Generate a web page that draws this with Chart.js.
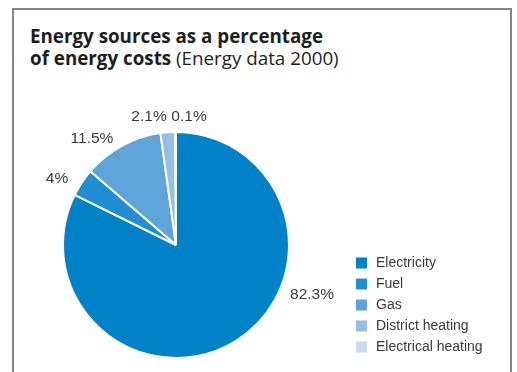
<!DOCTYPE html>
<html>
<head>
<meta charset="utf-8">
<script src="https://cdn.jsdelivr.net/npm/chart.js@4/dist/chart.umd.min.js"></script>
<style>
  html, body { margin: 0; padding: 0; background: #fff; }
  body { width: 517px; height: 372px; position: relative; overflow: hidden; }
  #frame { position: absolute; left: 12px; top: 8px; width: 500px; height: 420px;
           border: 2px solid #868686; box-sizing: border-box; }
  #title { position: absolute; left: 30px; top: 25px; font-family: "Open Sans", sans-serif;
           font-size: 18.8px; line-height: 22px; color: #1e1e1e; }
  #title b { font-weight: 700; }
  #title span { font-weight: 400; }
  #wrap { position: absolute; left: 0; top: 0; width: 517px; height: 372px; }
</style>
</head>
<body>
<div id="frame"></div>
<div id="title"><b>Energy sources as a percentage</b><br><b>of energy costs</b> <span>(Energy data 2000)</span></div>
<div id="wrap"><canvas id="c" width="517" height="372"></canvas></div>
<script>
const categories = ["Electricity", "Fuel", "Gas", "District heating", "Electrical heating"];
const shares = [82.3, 4, 11.5, 2.1, 0.1];
const valueLabels = ["82.3%", "4%", "11.5%", "2.1%", "0.1%"];
const colors = ["#0082c8", "#1f8fd2", "#5ea5da", "#97bfe6", "#c6dbf1"];

// label anchor offsets relative to the pie centre (layout only)
const labelOffsets = [[136, 50], [-119, -66], [-84, -106], [-27, -128], [13, -128]];

const valueLabelPlugin = {
  id: 'valueLabels',
  afterDatasetsDraw(chart) {
    const ctx = chart.ctx;
    const arcs = chart.getDatasetMeta(0).data;
    ctx.save();
    ctx.font = '15.5px "Liberation Sans", Arial, sans-serif';
    ctx.fillStyle = '#3a3a3a';
    ctx.textAlign = 'center';
    ctx.textBaseline = 'middle';
    arcs.forEach((arc, i) => {
      const o = labelOffsets[i];
      ctx.fillText(valueLabels[i], arc.x + o[0], arc.y + o[1]);
    });
    ctx.restore();
  }
};

const legendPlugin = {
  id: 'sideLegend',
  afterDraw(chart) {
    const ctx = chart.ctx;
    const x0 = 356, y0 = 263, step = 21, box = 11;
    ctx.save();
    ctx.font = '14px "Liberation Sans", Arial, sans-serif';
    ctx.textBaseline = 'middle';
    ctx.textAlign = 'left';
    categories.forEach((name, i) => {
      const y = y0 + i * step;
      ctx.fillStyle = colors[i];
      ctx.fillRect(x0, y - box / 2, box, box);
      ctx.fillStyle = '#3a3a3a';
      ctx.fillText(name, x0 + 20, y);
    });
    ctx.restore();
  }
};

new Chart(document.getElementById('c'), {
  type: 'pie',
  data: {
    labels: categories,
    datasets: [{
      data: shares,
      backgroundColor: colors,
      borderColor: '#ffffff',
      borderWidth: 2
    }]
  },
  options: {
    responsive: false,
    animation: false,
    radius: 113,
    layout: { padding: { left: 0, right: 165, top: 118, bottom: 0 } },
    plugins: {
      legend: { display: false },
      tooltip: { enabled: false },
      title: { display: false }
    }
  },
  plugins: [valueLabelPlugin, legendPlugin]
});
</script>
</body>
</html>
